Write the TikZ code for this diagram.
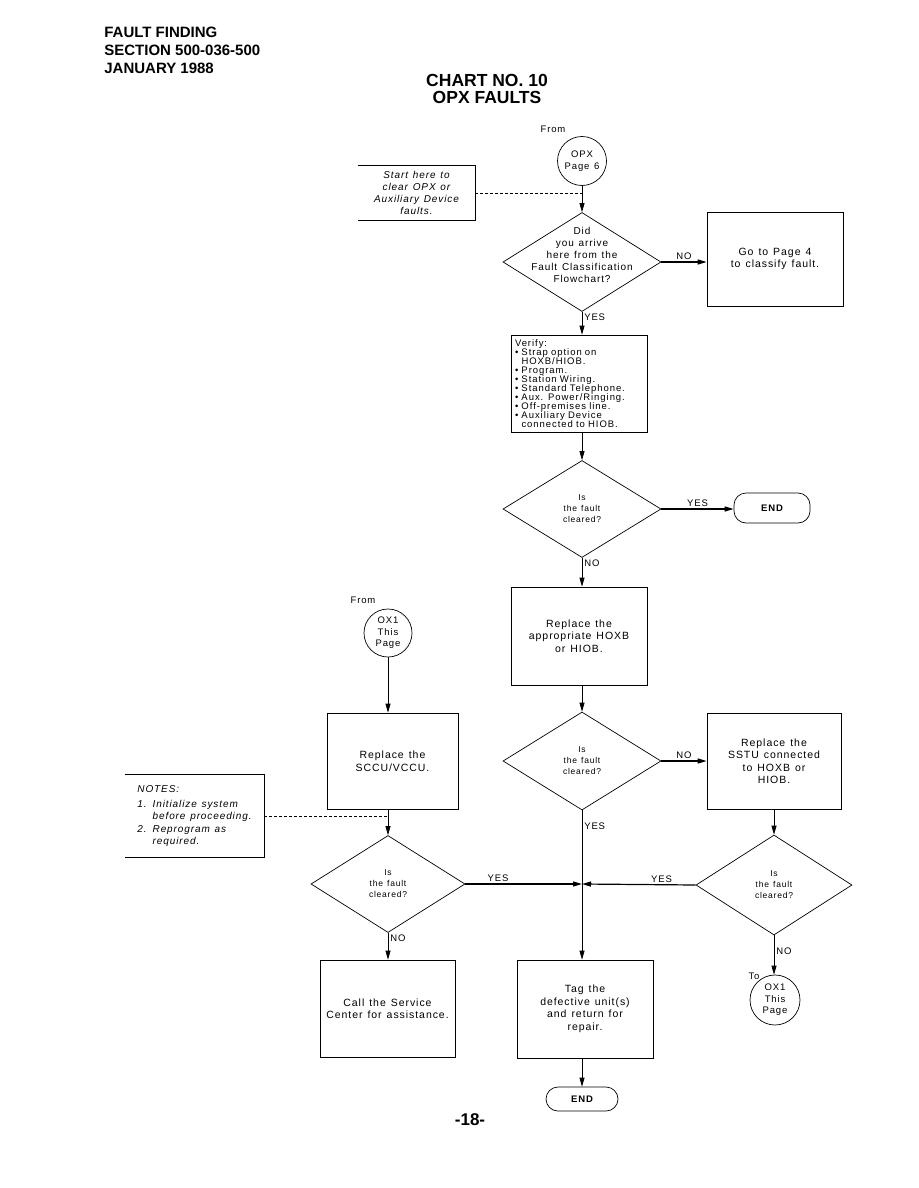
\documentclass[tikz,border=0pt]{standalone}
\usepackage{fontspec}
\setmainfont{Liberation Sans}
\newfontfamily\chartfont[LetterSpace=9,WordSpace=1.3]{Liberation Sans}
\newfontfamily\listfont[LetterSpace=10,WordSpace=1.4]{Liberation Sans}
\usetikzlibrary{shapes.geometric,arrows.meta}

\begin{document}
\begin{tikzpicture}[x=1pt,y=-1pt,line width=0.7pt,
  box/.style={draw,rectangle,inner sep=0pt,align=center,font=\chartfont\fontsize{10.5}{12.5}\selectfont},
  decision/.style={draw,diamond,inner sep=0pt},
  qtext/.style={inner sep=0pt,align=center,font=\chartfont\fontsize{8.5}{11}\selectfont},
  conn/.style={draw,circle,inner sep=0pt,align=center,font=\chartfont\fontsize{9.5}{11.5}\selectfont},
  term/.style={draw,rectangle,rounded corners=12pt,inner sep=0pt,font=\chartfont\fontsize{9.5}{11}\selectfont\bfseries},
  note/.style={inner sep=0pt,font=\chartfont\fontsize{10}{12}\selectfont\itshape},
  lbl/.style={inner sep=2pt,font=\chartfont\fontsize{9.5}{11}\selectfont},
  flow/.style={-{Triangle[length=9pt,width=5pt]}},
  flowh/.style={flow,line width=1.2pt},
  tie/.style={dash pattern=on 3pt off 2pt}]
\useasboundingbox[fill=white] (0,0) rectangle (918,1188);

\node[font=\bfseries\fontsize{15}{18}\selectfont,align=left,anchor=north west,inner sep=0pt] (head) at (104,27) {FAULT FINDING\\SECTION 500-036-500\\JANUARY 1988};
\node[font=\bfseries\fontsize{17.5}{17}\selectfont,align=center,anchor=north,inner sep=0pt] (title) at (487,74) {CHART NO. 10\\OPX FAULTS};

\node[lbl] (from1) at (553,129) {From};
\node[conn,minimum size=49pt] (opx) at (582,161) {OPX\\Page 6};
\node[note,align=center,minimum width=117pt,minimum height=54pt] (start) at (416.5,193) {Start here to\\clear OPX or\\Auxiliary Device\\faults.};
\draw (start.north west) -| (start.south east) -- (start.south west);

\node[decision,minimum width=158pt,minimum height=99pt,
  label={[qtext,font=\chartfont\fontsize{10}{12}\selectfont,yshift=7pt]center:{Did\\you arrive\\here from the\\Fault Classification\\Flowchart?}}] (arrive) at (582,262) {};
\node[box,minimum width=136pt,minimum height=94pt] (page4) at (775,259) {Go to Page 4\\to classify fault.};

\node[box,align=left,text width=128pt,inner xsep=4pt,minimum height=97pt,font=\listfont\fontsize{9.5}{9}\selectfont] (verify) at (579,383.5) {Verify:\\\textbullet\ Strap option on\\\phantom{\textbullet\ }HOXB/HIOB.\\\textbullet\ Program.\\\textbullet\ Station Wiring.\\\textbullet\ Standard Telephone.\\\textbullet\ Aux. Power/Ringing.\\\textbullet\ Off-premises line.\\\textbullet\ Auxiliary Device\\\phantom{\textbullet\ }connected to HIOB.};

\node[decision,minimum width=158pt,minimum height=97pt,label={[qtext]center:{Is\\the fault\\cleared?}}] (clr1) at (582,509) {};
\node[term,minimum width=76pt,minimum height=30pt] (end1) at (772,508) {END};

\node[box,minimum width=136pt,minimum height=98pt] (hoxb) at (579,636) {Replace the\\appropriate HOXB\\or HIOB.};
\node[decision,minimum width=158pt,minimum height=98pt,label={[qtext]center:{Is\\the fault\\cleared?}}] (clr2) at (582,761) {};
\node[box,minimum width=134pt,minimum height=96pt] (sstu) at (774,761) {Replace the\\SSTU connected\\to HOXB or\\HIOB.};
\node[decision,minimum width=156pt,minimum height=100pt,label={[qtext]center:{Is\\the fault\\cleared?}}] (clr3) at (774,885) {};
\node[lbl] (to1) at (754,976) {To};
\node[conn,minimum size=50pt] (ox1b) at (775,1000) {OX1\\This\\Page};

\node[lbl] (from2) at (363,600) {From};
\node[conn,minimum size=48pt] (ox1a) at (388,633) {OX1\\This\\Page};
\node[box,minimum width=131pt,minimum height=96pt] (sccu) at (392.5,761) {Replace the\\SCCU/VCCU.};
\node[note,align=left,minimum width=139pt,minimum height=82pt] (notes) at (194.5,816) {NOTES:\\[3pt]1. Initialize system\\\phantom{1. }before proceeding.\\[1pt]2. Reprogram as\\\phantom{2. }required.};
\draw (notes.north west) -| (notes.south east) -- (notes.south west);
\node[decision,minimum width=154pt,minimum height=97pt,label={[qtext]center:{Is\\the fault\\cleared?}}] (clr4) at (388,884) {};
\node[box,minimum width=135pt,minimum height=97pt] (call) at (387.5,1008.5) {Call the Service\\Center for assistance.};

\node[box,minimum width=136pt,minimum height=98pt] (tag) at (585,1009) {Tag the\\defective unit(s)\\and return for\\repair.};
\node[term,minimum width=72pt,minimum height=24pt] (end2) at (582,1099) {END};
\node[font=\bfseries\fontsize{17}{20}\selectfont,anchor=base,inner sep=0pt] (pageno) at (470,1125) {-18-};

\coordinate (join) at (clr2.south |- clr4.east);

\draw[flow] (opx.south) -- (arrive.north);
\draw[tie] (start.east) -- (start.east -| opx.south);
\draw[flowh] (arrive.east) -- (arrive.east -| page4.west) node[lbl,above,midway] {NO};
\draw[flow] (arrive.south) -- (arrive.south |- verify.north) node[lbl,anchor=north west,pos=0] {YES};
\draw[flow] (clr1.north |- verify.south) -- (clr1.north);
\draw[flowh] (clr1.east) -- (clr1.east -| end1.west) node[lbl,above,midway] {YES};
\draw[flow] (clr1.south) -- (clr1.south |- hoxb.north) node[lbl,anchor=north west,pos=0] {NO};
\draw[flow] (clr2.north |- hoxb.south) -- (clr2.north);
\draw[flowh] (clr2.east) -- (clr2.east -| sstu.west) node[lbl,above,midway] {NO};
\draw[flow] (clr2.south) -- (clr2.south |- tag.north) node[lbl,anchor=north west,pos=0.07] {YES};
\draw[flow] (clr3.north |- sstu.south) -- (clr3.north);
\draw[flowh] (clr3.west) -- (join) node[lbl,above,pos=0.3] {YES};
\draw[flow] (clr3.south) -- (clr3.south |- ox1b.north) node[lbl,anchor=north west,pos=0.25] {NO};
\draw[flow] (ox1a.south) -- (ox1a.south |- sccu.north);
\draw[flow] (clr4.north |- sccu.south) -- (clr4.north);
\draw[tie] (notes.east) -- (notes.east -| clr4.north);
\draw[flowh] (clr4.east) -- (join) node[lbl,above,pos=0.28] {YES};
\draw[flow] (clr4.south) -- (clr4.south |- call.north) node[lbl,anchor=north west,pos=0] {NO};
\draw[flow] (end2.north |- tag.south) -- (end2.north);
\end{tikzpicture}
\end{document}
